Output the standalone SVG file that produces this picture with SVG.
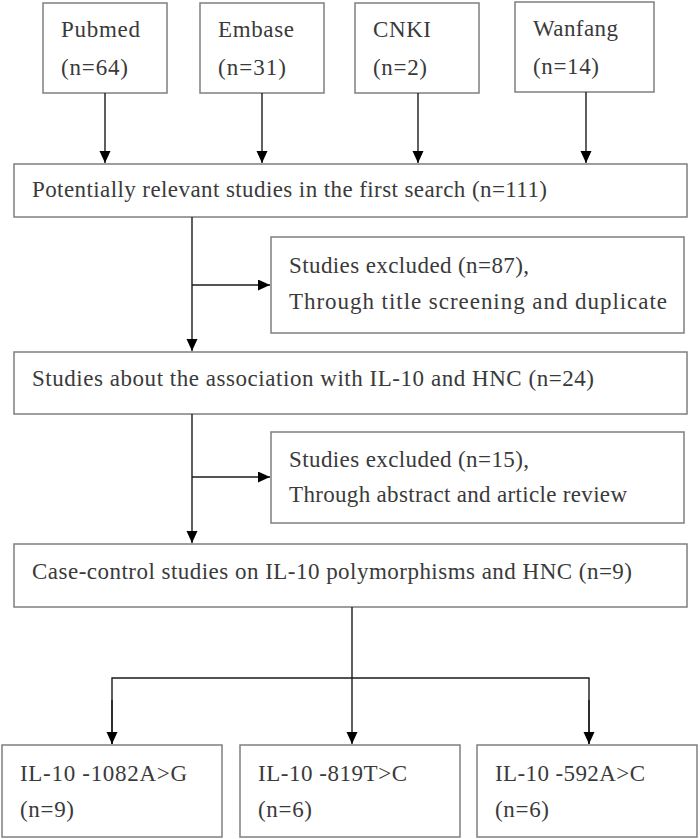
<svg xmlns="http://www.w3.org/2000/svg" width="700" height="839" viewBox="0 0 700 839">
<defs>
<style>
.box{fill:#fff;stroke:#7f7f7f;stroke-width:1.5}
.t{font-family:'Liberation Serif','DejaVu Serif','Noto Serif',serif;font-size:23px;fill:#3a3a3a}
.c{fill:none;stroke:#1a1a1a;stroke-width:1.4}
</style>
<marker id="ah" markerUnits="userSpaceOnUse" markerWidth="12" markerHeight="12" refX="12" refY="5.5" orient="auto">
<path d="M0,0 L12,5.5 L0,11 z" fill="#000"/>
</marker>
</defs>
<rect width="700" height="839" fill="#fff"/>
<g id="pubmed"><rect class="box" x="43" y="3" width="124" height="90"/><text class="t" x="61" y="37" textLength="79">Pubmed</text><text class="t" x="61" y="75" textLength="67">(n=64)</text></g>
<g id="embase"><rect class="box" x="200" y="3" width="124" height="90"/><text class="t" x="218" y="37" textLength="76">Embase</text><text class="t" x="218" y="75" textLength="68">(n=31)</text></g>
<g id="cnki"><rect class="box" x="355" y="3" width="124" height="90"/><text class="t" x="373" y="37" textLength="58">CNKI</text><text class="t" x="373" y="75" textLength="54">(n=2)</text></g>
<g id="wanfang"><rect class="box" x="515" y="2" width="139" height="90"/><text class="t" x="533" y="36" textLength="85">Wanfang</text><text class="t" x="533" y="74" textLength="66">(n=14)</text></g>
<g id="potential"><rect class="box" x="14" y="164" width="673" height="53"/><text class="t" x="32" y="197" textLength="515">Potentially relevant studies in the first search (n=111)</text></g>
<g id="excluded1"><rect class="box" x="271" y="237" width="413" height="96"/><text class="t" x="289" y="273" textLength="240">Studies excluded (n=87),</text><text class="t" x="289" y="309" textLength="378">Through title screening and duplicate</text></g>
<g id="association"><rect class="box" x="14" y="352" width="673" height="62"/><text class="t" x="32" y="386" textLength="562">Studies about the association with IL-10 and HNC (n=24)</text></g>
<g id="excluded2"><rect class="box" x="271" y="432" width="413" height="91"/><text class="t" x="289" y="467" textLength="240">Studies excluded (n=15),</text><text class="t" x="289" y="502" textLength="338">Through abstract and article review</text></g>
<g id="casecontrol"><rect class="box" x="14" y="544" width="673" height="63"/><text class="t" x="32" y="579" textLength="600">Case-control studies on IL-10 polymorphisms and HNC (n=9)</text></g>
<g id="snp1082"><rect class="box" x="2" y="745" width="220" height="92"/><text class="t" x="20" y="781" textLength="167">IL-10 -1082A&gt;G</text><text class="t" x="20" y="817" textLength="54">(n=9)</text></g>
<g id="snp819"><rect class="box" x="240" y="745" width="220" height="92"/><text class="t" x="258" y="781" textLength="149">IL-10 -819T&gt;C</text><text class="t" x="258" y="817" textLength="54">(n=6)</text></g>
<g id="snp592"><rect class="box" x="477" y="745" width="220" height="92"/><text class="t" x="495" y="781" textLength="150">IL-10 -592A&gt;C</text><text class="t" x="495" y="817" textLength="54">(n=6)</text></g>
<g id="connectors">
<line class="c" x1="105" y1="93" x2="105" y2="163" marker-end="url(#ah)"/>
<line class="c" x1="262" y1="93" x2="262" y2="163" marker-end="url(#ah)"/>
<line class="c" x1="418" y1="93" x2="418" y2="163" marker-end="url(#ah)"/>
<line class="c" x1="586" y1="92" x2="586" y2="163" marker-end="url(#ah)"/>
<line class="c" x1="192" y1="217" x2="192" y2="351" marker-end="url(#ah)"/>
<line class="c" x1="192" y1="285" x2="270" y2="285" marker-end="url(#ah)"/>
<line class="c" x1="192" y1="414" x2="192" y2="543" marker-end="url(#ah)"/>
<line class="c" x1="192" y1="477" x2="270" y2="477" marker-end="url(#ah)"/>
<line class="c" x1="352" y1="607" x2="352" y2="744" marker-end="url(#ah)"/>
<polyline class="c" points="112,744 112,678 589,678 589,744"/>
<line class="c" x1="112" y1="700" x2="112" y2="744" marker-end="url(#ah)"/>
<line class="c" x1="589" y1="700" x2="589" y2="744" marker-end="url(#ah)"/>
</g>
</svg>
